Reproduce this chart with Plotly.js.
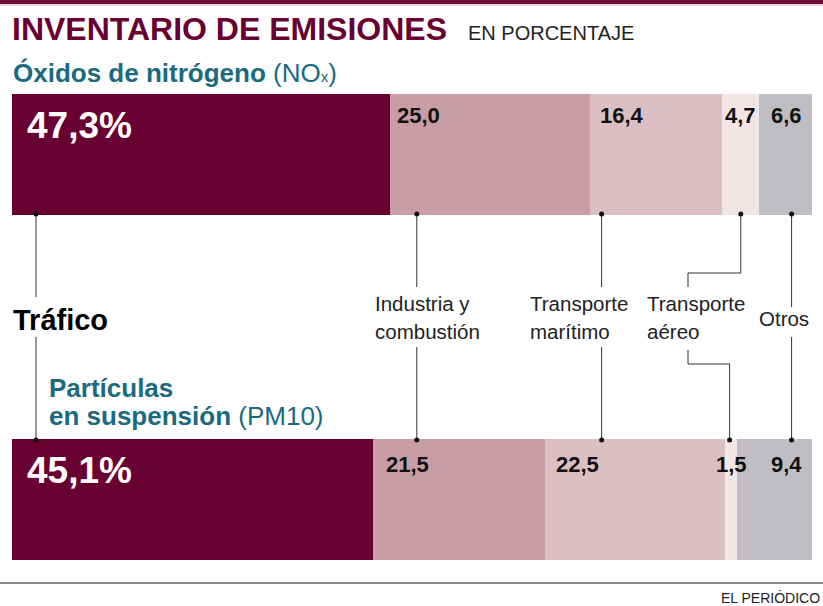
<!DOCTYPE html>
<html><head><meta charset="utf-8">
<script src="https://cdn.plot.ly/plotly-3.0.1.min.js"></script>
<style>html,body{margin:0;padding:0;background:#fff;}#chart{width:823px;height:606px;}</style>
</head><body><div id="chart"></div>
<script>
// ---- data ----
const rows = ['PM10', 'NOx'];
const categories = ['Tráfico', 'Industria y combustión', 'Transporte marítimo', 'Transporte aéreo', 'Otros'];
const noxValues = [47.3, 25.0, 16.4, 4.7, 6.6];
const pm10Values = [45.1, 21.5, 22.5, 1.5, 9.4];
const noxLabels = ['47,3%', '25,0', '16,4', '4,7', '6,6'];
const pm10Labels = ['45,1%', '21,5', '22,5', '1,5', '9,4'];
const colors = ['#690032', '#c99da5', '#dcbfc2', '#f2e5e5', '#c0bec2'];

// ---- layout helpers (pixel -> paper) ----
const W = 823, H = 606, L = 12, R = 11, T = 94, B = 46;
const PW = W - L - R, PH = H - T - B;
const px = p => (p - L) / PW;
const py = p => (H - B - p) / PH;

const traces = categories.map((c, i) => ({
  type: 'bar', orientation: 'h', name: c,
  y: rows, x: [pm10Values[i], noxValues[i]],
  width: 0.35, marker: {color: colors[i], line: {width: 0}},
  hoverinfo: 'skip'
}));

const cum = arr => arr.map((v, i) => arr.slice(0, i).reduce((a, b) => a + b, 0));
const noxStart = cum(noxValues), pmStart = cum(pm10Values);

const F = 'Liberation Sans, Arial, Helvetica, sans-serif';
const ann = [];
function txt(text, x, y, size, color, opts) {
  ann.push(Object.assign({text: text, x: px(x), y: py(y), xref: 'paper', yref: 'paper',
    xanchor: 'left', yanchor: 'middle', showarrow: false,
    font: {family: F, size: size, color: color}}, opts || {}));
}
// titles
txt('<b>INVENTARIO DE EMISIONES</b>', 10, 29, 32, '#690032');
txt('EN PORCENTAJE', 466, 33, 20, '#222');
txt('<b>Óxidos de nitrógeno</b> (NO<span style="font-size:15px">x</span>)', 11, 73, 26, '#1a6a80');
txt('<b>Partículas</b>', 47, 388, 26, '#1a6a80');
txt('<b>en suspensión</b> (PM10)', 47, 416, 26, '#1a6a80');
txt('<b>Tráfico</b>', 11, 320, 29, '#000');
txt('Industria y', 373, 303, 20.5, '#222');
txt('combustión', 373, 331, 20.5, '#222');
txt('Transporte', 528, 303, 20.5, '#222');
txt('marítimo', 528, 331, 20.5, '#222');
txt('Transporte', 645, 303, 20.5, '#222');
txt('aéreo', 645, 331, 20.5, '#222');
txt('Otros', 757, 318, 20.5, '#222');
txt('EL PERIÓDICO', 822, 598, 14, '#222', {xanchor: 'right'});

// value labels
const noxShift = [13, 5, 8, 1, 0];
const pmShift = [13, 11, 9, -11, 0];
function valLabel(label, start, shift, isPct, yPix) {
  ann.push({text: '<b>' + label + '</b>', x: start, y: py(yPix), xref: 'x', yref: 'paper',
    xanchor: 'left', yanchor: 'middle', xshift: shift, showarrow: false,
    font: {family: F, size: isPct ? 37 : 22, color: isPct ? '#fff' : '#111'}});
}
function otherLabel(label, yPix) {
  ann.push({text: '<b>' + label + '</b>', x: 100, y: py(yPix), xref: 'x', yref: 'paper', xanchor: 'right', yanchor: 'middle', xshift: -8, showarrow: false, font: {family: F, size: 22, color: '#111'}});
}
noxLabels.forEach((l, i) => {
  if (i === 4) otherLabel(l, 116);
  else valLabel(l, noxStart[i], noxShift[i], i === 0, i === 0 ? 125 : 116);
});
pm10Labels.forEach((l, i) => {
  if (i === 4) otherLabel(l, 464);
  else valLabel(l, pmStart[i], pmShift[i], i === 0, i === 0 ? 470 : 464);
});

// leader lines (x in data units, y in pixels)
const leaderX = {traf: 3.0, ind: 50.6, mar: 73.7, aerTop: 91.1, aerBot: 89.7, aerMid: 84.5, otr: 97.45};
const shapes = [];
const lc = '#333';
function seg(x0, y0, x1, y1) {
  shapes.push({type: 'line', xref: 'x', yref: 'paper', x0: x0, x1: x1, y0: py(y0), y1: py(y1), line: {color: lc, width: 1}});
}
function dot(x, y) {
  const r = 2.5;
  shapes.push({type: 'circle', xref: 'x', yref: 'paper', xsizemode: 'pixel', ysizemode: 'pixel',
    xanchor: x, yanchor: py(y), x0: -r, x1: r, y0: -r, y1: r, fillcolor: '#111', line: {width: 0}});
}
seg(leaderX.traf, 214, leaderX.traf, 297); seg(leaderX.traf, 337, leaderX.traf, 440);
seg(leaderX.ind, 214, leaderX.ind, 287); seg(leaderX.ind, 347, leaderX.ind, 440);
seg(leaderX.mar, 214, leaderX.mar, 287); seg(leaderX.mar, 347, leaderX.mar, 440);
seg(leaderX.aerTop, 214, leaderX.aerTop, 273); seg(leaderX.aerTop, 273, leaderX.aerMid, 273); seg(leaderX.aerMid, 273, leaderX.aerMid, 287);
seg(leaderX.aerMid, 350, leaderX.aerMid, 364); seg(leaderX.aerMid, 364, leaderX.aerBot, 364); seg(leaderX.aerBot, 364, leaderX.aerBot, 440);
seg(leaderX.otr, 214, leaderX.otr, 307); seg(leaderX.otr, 337, leaderX.otr, 440);
[leaderX.traf, leaderX.ind, leaderX.mar, leaderX.aerTop, leaderX.otr].forEach(x => dot(x, 214));
[leaderX.traf, leaderX.ind, leaderX.mar, leaderX.aerBot, leaderX.otr].forEach(x => dot(x, 440));

// frame decorations
shapes.push({type: 'rect', xref: 'paper', yref: 'paper', x0: px(0), x1: px(W), y0: py(0), y1: py(4), fillcolor: '#6e0a3a', line: {width: 0}, layer: 'above'});
shapes.push({type: 'line', xref: 'paper', yref: 'paper', x0: px(0), x1: px(W), y0: py(5), y1: py(5), line: {color: '#dca9bc', width: 1.2}});
shapes.push({type: 'line', xref: 'paper', yref: 'paper', x0: px(0), x1: px(W), y0: py(583), y1: py(583), line: {color: '#8a8a8a', width: 2}});

const layout = {
  width: W, height: H, margin: {l: L, r: R, t: T, b: B, pad: 0},
  paper_bgcolor: '#fff', plot_bgcolor: '#fff',
  barmode: 'stack', bargap: 0, showlegend: false, hovermode: false,
  xaxis: {range: [0, 100], visible: false, fixedrange: true},
  yaxis: {type: 'category', categoryorder: 'array', categoryarray: rows, range: [-0.175, 1.175], visible: false, fixedrange: true},
  annotations: ann, shapes: shapes
};
Plotly.newPlot('chart', traces, layout, {displayModeBar: false, staticPlot: true});
</script></body></html>
